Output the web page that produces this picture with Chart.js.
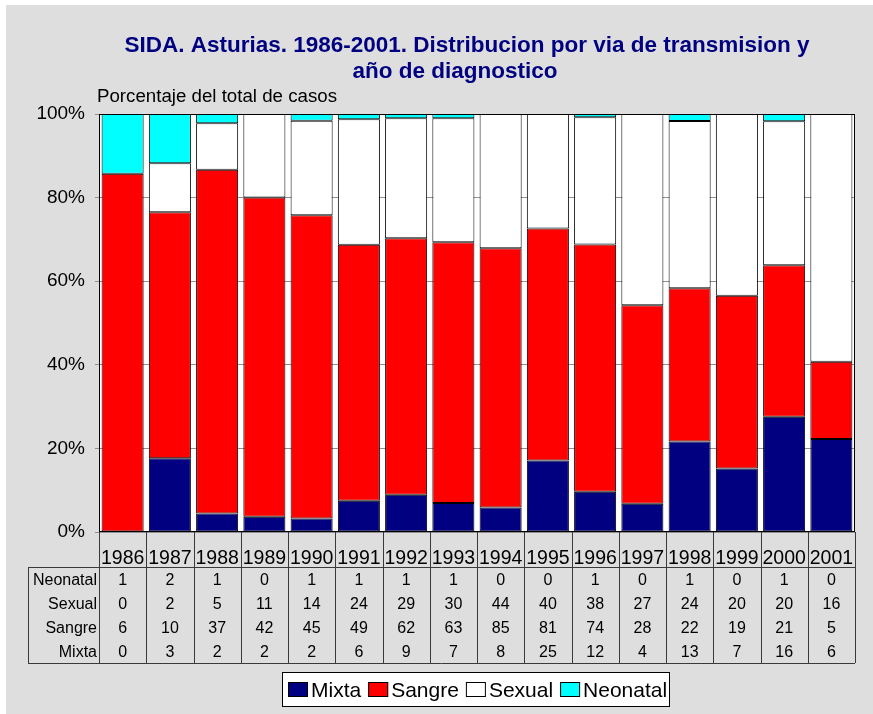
<!DOCTYPE html>
<html>
<head>
<meta charset="utf-8">
<script src="https://cdn.jsdelivr.net/npm/chart.js@4/dist/chart.umd.min.js"></script>
<style>
  html, body { margin: 0; padding: 0; background: #ffffff; }
  canvas { display: block; }
</style>
</head>
<body>
<canvas id="c" width="873" height="714"></canvas>
<script>
// ---- Data ----
const years = ["1986","1987","1988","1989","1990","1991","1992","1993","1994","1995","1996","1997","1998","1999","2000","2001"];
const neonatal = [1, 2, 1, 0, 1, 1, 1, 1, 0, 0, 1, 0, 1, 0, 1, 0];
const sexual   = [0, 2, 5, 11, 14, 24, 29, 30, 44, 40, 38, 27, 24, 20, 20, 16];
const sangre   = [6, 10, 37, 42, 45, 49, 62, 63, 85, 81, 74, 28, 22, 19, 21, 5];
const mixta    = [0, 3, 2, 2, 2, 6, 9, 7, 8, 25, 12, 4, 13, 7, 16, 6];
const yTicks = [0, 20, 40, 60, 80, 100];
const titleLines = ["SIDA. Asturias. 1986-2001. Distribucion por via de transmision y", "año de diagnostico"];
const yAxisTitle = "Porcentaje del total de casos";

const totals = years.map((_, i) => neonatal[i] + sexual[i] + sangre[i] + mixta[i]);
const pct = arr => arr.map((v, i) => v / totals[i] * 100);

const seriesDefs = [
  { label: "Mixta",    counts: mixta,    color: "#000080" },
  { label: "Sangre",   counts: sangre,   color: "#ff0000" },
  { label: "Sexual",   counts: sexual,   color: "#ffffff" },
  { label: "Neonatal", counts: neonatal, color: "#00ffff" }
];
// table rows order (top to bottom)
const tableRows = [
  { label: "Neonatal", counts: neonatal },
  { label: "Sexual",   counts: sexual },
  { label: "Sangre",   counts: sangre },
  { label: "Mixta",    counts: mixta }
];

const FONT = "'Liberation Sans', Arial, sans-serif";

const decorPlugin = {
  id: "decor",
  beforeDraw(chart) {
    const ctx = chart.ctx;
    const a = chart.chartArea;
    ctx.save();
    ctx.fillStyle = "#ffffff";
    ctx.fillRect(0, 0, chart.width, chart.height);
    ctx.fillStyle = "#dedede";
    ctx.fillRect(6, 5, chart.width - 6, chart.height - 5);
    ctx.fillStyle = "#ffffff";
    ctx.fillRect(a.left, a.top, a.right - a.left, a.bottom - a.top);
    // title
    ctx.fillStyle = "#000080";
    ctx.font = "bold 22.5px " + FONT;
    ctx.textAlign = "center";
    ctx.textBaseline = "alphabetic";
    ctx.fillText(titleLines[0], 467, 52);
    ctx.fillText(titleLines[1], 455, 78);
    // axis subtitle
    ctx.fillStyle = "#000000";
    ctx.font = "18.7px " + FONT;
    ctx.textAlign = "left";
    ctx.fillText(yAxisTitle, 97, 102);
    ctx.restore();
  },
  afterDatasetsDraw(chart) {
    const ctx = chart.ctx;
    const a = chart.chartArea;
    ctx.save();
    ctx.strokeStyle = "#000000";
    ctx.lineWidth = 1;
    ctx.strokeRect(Math.round(a.left) + 0.5, Math.round(a.top) + 0.5, Math.round(a.right - a.left) - 1, Math.round(a.bottom - a.top) - 1);
    ctx.restore();
  },
  afterDraw(chart) {
    const ctx = chart.ctx;
    const a = chart.chartArea;
    const xs = chart.scales.x;
    const n = years.length;
    const colW = (a.right - a.left) / n;
    const yearTop = a.bottom, yearBottom = 567, rowH = 24;
    const tableBottom = yearBottom + rowH * tableRows.length;
    const tableLeft = 28;
    ctx.save();
    ctx.strokeStyle = "#3a3a3a";
    ctx.lineWidth = 1;
    ctx.beginPath();
    // vertical separators
    for (let i = 0; i <= n; i++) {
      const x = Math.round(a.left + i * colW) + 0.5;
      ctx.moveTo(x, yearTop);
      ctx.lineTo(x, tableBottom);
    }
    ctx.moveTo(tableLeft + 0.5, yearBottom);
    ctx.lineTo(tableLeft + 0.5, tableBottom);
    // horizontal lines
    ctx.moveTo(tableLeft, yearBottom + 0.5);
    ctx.lineTo(a.right, yearBottom + 0.5);
    ctx.moveTo(tableLeft, tableBottom + 0.5);
    ctx.lineTo(a.right, tableBottom + 0.5);
    ctx.stroke();

    // year labels
    ctx.fillStyle = "#000000";
    ctx.textAlign = "center";
    ctx.textBaseline = "alphabetic";
    ctx.font = "19.5px " + FONT;
    years.forEach((y, i) => {
      ctx.fillText(y, xs.getPixelForValue(i), 564);
    });
    // rows
    tableRows.forEach((row, r) => {
      const base = yearBottom + rowH * r + 18;
      ctx.font = "16px " + FONT;
      ctx.textAlign = "right";
      ctx.fillText(row.label, a.left - 2, base);
      ctx.textAlign = "center";
      row.counts.forEach((v, i) => {
        ctx.fillText(String(v), xs.getPixelForValue(i), base);
      });
    });

    // legend
    ctx.font = "21px " + FONT;
    const sq = 20, sqH = 15, gapT = 3, gapItem = 7, padL = 6, padR = 2;
    let contentW = 0;
    seriesDefs.forEach((s, i) => {
      contentW += sq + gapT + ctx.measureText(s.label).width + (i < seriesDefs.length - 1 ? gapItem : 0);
    });
    const boxW = contentW + padL + padR;
    const boxL = Math.round(476 - boxW / 2);
    const boxT = 672, boxH = 34;
    ctx.fillStyle = "#ffffff";
    ctx.fillRect(boxL, boxT, boxW, boxH);
    ctx.strokeStyle = "#000000";
    ctx.strokeRect(boxL + 0.5, boxT + 0.5, Math.round(boxW), boxH);
    let x = boxL + padL;
    ctx.textAlign = "left";
    seriesDefs.forEach((s) => {
      ctx.fillStyle = s.color;
      ctx.fillRect(x, 682, sq, sqH);
      ctx.strokeStyle = "#000000";
      ctx.strokeRect(x + 0.5, 682.5, sq - 1, sqH - 1);
      ctx.fillStyle = "#000000";
      ctx.fillText(s.label, x + sq + gapT, 697);
      x += sq + gapT + ctx.measureText(s.label).width + gapItem;
    });
    ctx.restore();
  }
};

new Chart(document.getElementById("c"), {
  type: "bar",
  data: {
    labels: years,
    datasets: seriesDefs.map(s => ({
      label: s.label,
      data: pct(s.counts),
      backgroundColor: s.color,
      borderColor: "#000000",
      borderWidth: 1,
      borderSkipped: false,
      categoryPercentage: 1.0,
      barPercentage: 0.89
    }))
  },
  options: {
    responsive: false,
    animation: false,
    devicePixelRatio: 1,
    layout: { padding: { left: 0, right: 18, top: 114, bottom: 182 } },
    plugins: {
      legend: { display: false },
      title: { display: false },
      tooltip: { enabled: false }
    },
    scales: {
      x: {
        stacked: true,
        display: false
      },
      y: {
        stacked: true,
        min: 0,
        max: 100,
        afterFit(scale) { scale.width = 99; },
        afterBuildTicks(scale) { scale.ticks = yTicks.map(v => ({ value: v })); },
        ticks: {
          callback: v => v + "%",
          color: "#000000",
          font: { family: FONT, size: 19 },
          padding: 10
        },
        grid: {
          color: "#909090",
          tickColor: "#909090",
          tickLength: 4,
          lineWidth: 1
        },
        border: { display: true, color: "#000000", width: 1 }
      }
    }
  },
  plugins: [decorPlugin]
});
</script>
</body>
</html>
